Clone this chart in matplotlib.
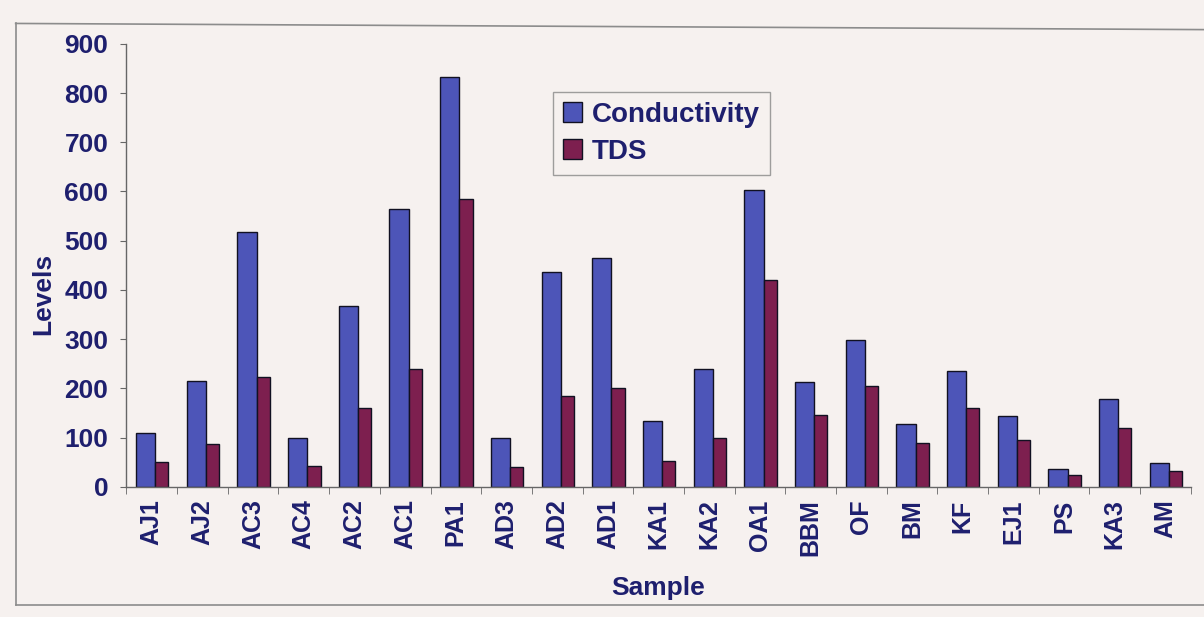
import numpy as np
import matplotlib.pyplot as plt
from matplotlib.lines import Line2D

samples = ['AJ1', 'AJ2', 'AC3', 'AC4', 'AC2', 'AC1', 'PA1', 'AD3', 'AD2', 'AD1', 'KA1',
           'KA2', 'OA1', 'BBM', 'OF', 'BM', 'KF', 'EJ1', 'PS', 'KA3', 'AM']
conductivity = [110, 215, 517, 100, 368, 564, 832, 100, 436, 465, 133,
                240, 603, 212, 298, 128, 235, 143, 36, 178, 48]
tds = [50, 86, 224, 43, 160, 240, 585, 40, 184, 200, 53,
       100, 420, 146, 205, 88, 160, 95, 25, 120, 32]

BG = '#f6f1ef'
NAVY = '#1e1f6e'
BLUE = '#4d55b8'
MAROON = '#7d1f4f'

plt.rcParams['font.family'] = ['Liberation Sans', 'DejaVu Sans']
plt.rcParams['font.weight'] = 'bold'

fig = plt.figure(figsize=(12.04, 6.17), dpi=100, facecolor=BG)
ax = fig.add_axes([0.105, 0.211, 0.884, 0.718])
ax.set_facecolor(BG)

x = np.arange(len(samples))
wb, wt = 0.38, 0.26
ax.bar(x - 0.31 + wb / 2, conductivity, wb, color=BLUE, edgecolor='#111122',
       linewidth=1.0, label='Conductivity')
ax.bar(x - 0.31 + wb + wt / 2, tds, wt, color=MAROON, edgecolor='#111122',
       linewidth=1.0, label='TDS')

ax.set_xlim(-0.5, len(samples) - 0.5)
ax.set_ylim(0, 900)
ax.set_yticks(range(0, 901, 100))
ax.set_xticks(x)
ax.set_xticklabels(samples, rotation=90, fontsize=18, color=NAVY, fontweight='bold')
ax.set_xticks(np.arange(-0.5, len(samples), 1), minor=True)
ax.tick_params(axis='x', which='major', length=0, pad=9)
ax.tick_params(axis='x', which='minor', length=5, color='#666666')
ax.tick_params(axis='y', length=4, color='#666666', labelsize=19, labelcolor=NAVY, pad=9)
for lbl in ax.get_yticklabels():
    lbl.set_fontweight('bold')

for s in ['top', 'right']:
    ax.spines[s].set_visible(False)
for s in ['left', 'bottom']:
    ax.spines[s].set_color('#666666')
    ax.spines[s].set_linewidth(1.0)

ax.set_xlabel('Sample', fontsize=19, color=NAVY, fontweight='bold', labelpad=14)
ax.set_ylabel('Levels', fontsize=19, color=NAVY, fontweight='bold')
ax.yaxis.set_label_coords(-0.067, 0.436)

leg = ax.legend(loc='upper left', fontsize=20,
                frameon=True, fancybox=False, edgecolor='#888888', facecolor=BG,
                handlelength=0.7, handleheight=0.7, handletextpad=0.35,
                borderpad=0.35, labelspacing=0.4, borderaxespad=0)
leg.get_frame().set_linewidth(1.0)
for t in leg.get_texts():
    t.set_color(NAVY)
    t.set_fontweight('bold')
# place the legend box by its pixel corners
leg.set_bbox_to_anchor((553 / 1204, 1 - 92 / 617), transform=fig.transFigure)

# outer chart frame (right edge runs past the image)
frame_kw = dict(transform=fig.transFigure, color='#8c8c8c', linewidth=1.2)
fig.add_artist(Line2D([0.013, 0.013], [0.02, 0.962], **frame_kw))
fig.add_artist(Line2D([0.013, 1.0], [0.962, 0.952], **frame_kw))
fig.add_artist(Line2D([0.013, 1.0], [0.02, 0.02], **frame_kw))

fig.savefig('out.png', dpi=100, facecolor=BG)
